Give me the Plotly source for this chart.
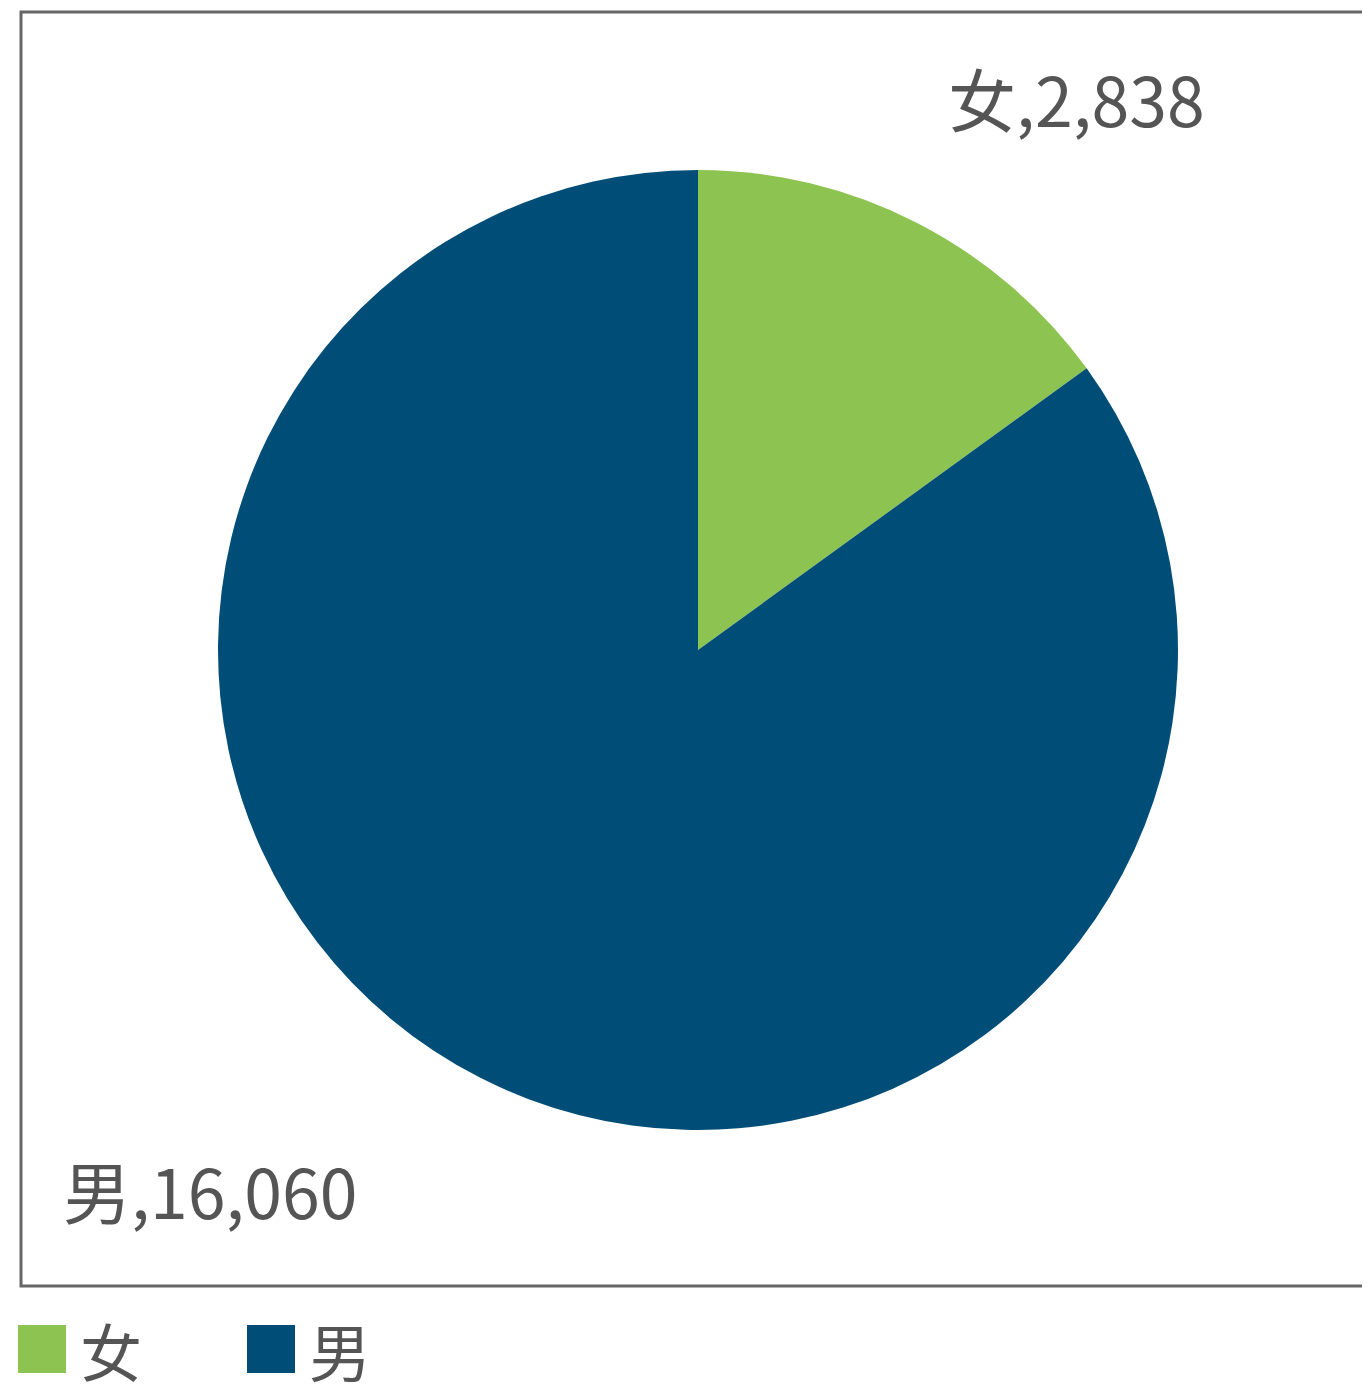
import plotly.graph_objects as go

labels = ["女", "男"]
values = [2838, 16060]
colors = ["#8DC350", "#004D78"]

W, H = 1370, 1395
OFF = 8  # page body margin
FONT = "Noto Sans CJK TC"
TEXT_COLOR = "#555555"

def px(x):
    return (x - OFF) / W

def py(y):
    return 1 - (y - OFF) / H

cx, cy, r = 698, 650, 480

fig = go.Figure(go.Pie(
    labels=labels,
    values=values,
    marker=dict(colors=colors, line=dict(width=0)),
    sort=False,
    direction="clockwise",
    rotation=0,
    textinfo="none",
    hoverinfo="label+value",
    showlegend=False,
    domain=dict(x=[px(cx - r), px(cx + r)], y=[py(cy + r), py(cy - r)]),
))

# data labels
label_pos = [(1076, 97), (210, 1189)]
for (lx, ly), lab, val in zip(label_pos, labels, values):
    fig.add_annotation(
        x=px(lx), y=py(ly), xref="paper", yref="paper",
        text=f"{lab},{val:,}", showarrow=False,
        xanchor="center", yanchor="middle",
        font=dict(family=FONT, size=68, color=TEXT_COLOR),
    )

# manual legend
legend_items = [(18, 1325), (247, 1325)]
sq = 48
for (lx, ly), lab, col in zip(legend_items, labels, colors):
    fig.add_shape(type="rect", xref="paper", yref="paper",
                  x0=px(lx), x1=px(lx + sq), y0=py(ly + sq), y1=py(ly),
                  fillcolor=col, line=dict(width=0))
    fig.add_annotation(
        x=px(lx + sq + 12), y=py(ly + sq / 2 + 1), xref="paper", yref="paper",
        text=lab, showarrow=False, xanchor="left", yanchor="middle",
        font=dict(family=FONT, size=62, color=TEXT_COLOR),
    )

# border frame
fig.add_shape(type="rect", xref="paper", yref="paper",
              x0=px(21), x1=px(1390), y0=py(1286), y1=py(12),
              line=dict(color="#666666", width=3), fillcolor="rgba(0,0,0,0)")

fig.update_layout(
    width=W, height=H,
    margin=dict(l=0, r=0, t=0, b=0),
    paper_bgcolor="white",
    plot_bgcolor="white",
)

fig.write_html("out.html")
